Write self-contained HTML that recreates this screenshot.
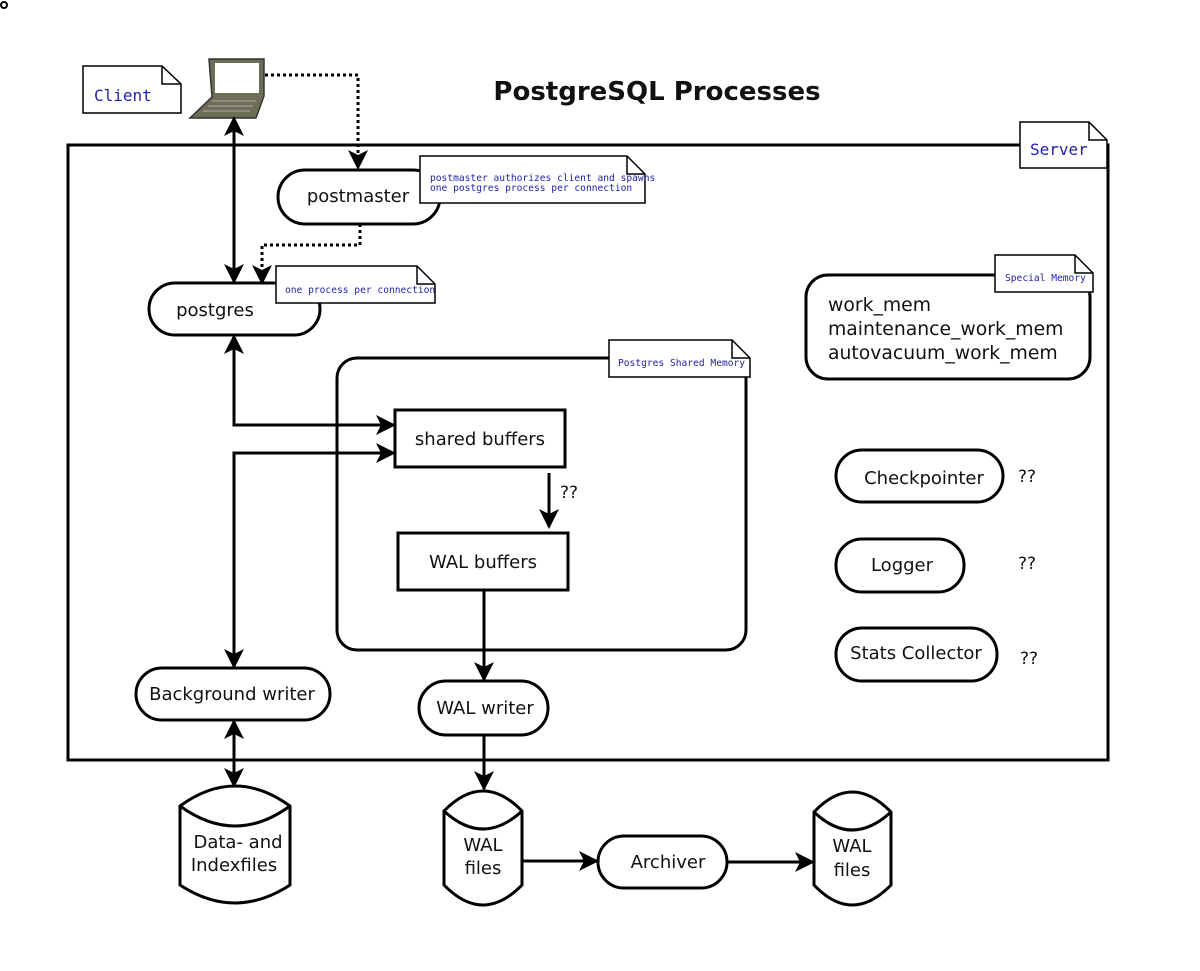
<!DOCTYPE html>
<html><head><meta charset="utf-8"><style>
html,body{margin:0;padding:0;background:#fff;}
svg{display:block;}
text{font-family:"DejaVu Sans","Liberation Sans",sans-serif;fill:#111;}
.m{font-family:"DejaVu Sans Mono","Liberation Mono",monospace;fill:#2222aa;}
</style></head><body>
<svg width="1200" height="971" viewBox="0 0 1200 971" xmlns="http://www.w3.org/2000/svg">
<defs>
<marker id="a" viewBox="0 0 20 20" refX="18" refY="10" markerWidth="20" markerHeight="20" markerUnits="userSpaceOnUse" orient="auto-start-reverse">
<path d="M0,0 L20,10 L0,20 L5,10 Z" fill="#000"/>
</marker>
</defs>
<circle cx="4" cy="5" r="3" fill="none" stroke="#000" stroke-width="2"/>
<g fill="none" stroke="#000" stroke-width="3">
<rect x="68" y="145" width="1040" height="615"/>
</g>
<text x="657" y="100" font-size="26" font-weight="bold" text-anchor="middle">PostgreSQL Processes</text>
<g fill="#fff" stroke="#000" stroke-width="1.5">
<path d="M83,66 H162 L181,84 V113 H83 Z"/><path d="M162,66 V84 H181" fill="none"/>
<path d="M1020,122 H1089 L1107,140 V168 H1020 Z"/><path d="M1089,122 V140 H1107" fill="none"/>
</g>
<text x="94" y="101" font-size="16" class="m">Client</text>
<text x="1030" y="155" font-size="16" class="m">Server</text>
<path d="M209,59 H264 V96 L256,118 H190 L212,97 Z" fill="#6e6e58" stroke="#333" stroke-width="1.5"/>
<rect x="215" y="63" width="44" height="30" fill="#fff"/>
<path d="M212,101 H256 M208,106 H253 M203,111 H250" stroke="#aaa" stroke-width="1"/>
<g fill="none" stroke="#000" stroke-width="3" stroke-dasharray="3,3">
<path d="M265,75 H358 V168" marker-end="url(#a)"/>
<path d="M360,224 V245 H262 V283" marker-end="url(#a)"/>
</g>
<g fill="none" stroke="#000" stroke-width="3">
<path d="M234,118 V282" marker-start="url(#a)" marker-end="url(#a)"/>
<rect x="278" y="170" width="162" height="54" rx="27" fill="#fff"/>
<rect x="149" y="283" width="171" height="52" rx="26" fill="#fff"/>
<rect x="337" y="358" width="409" height="292" rx="20"/>
<rect x="395" y="410" width="170" height="57"/>
<rect x="398" y="533" width="170" height="57"/>
<path d="M234,336 V425 H394" marker-start="url(#a)" marker-end="url(#a)"/>
<path d="M394,453 H234 V667" marker-start="url(#a)" marker-end="url(#a)"/>
<path d="M549,473 V527" marker-end="url(#a)"/>
<path d="M484,590 V680" marker-end="url(#a)"/>
<rect x="136" y="668" width="194" height="52" rx="26" fill="#fff"/>
<rect x="419" y="681" width="129" height="54" rx="27" fill="#fff"/>
<path d="M234,721 V786" marker-start="url(#a)" marker-end="url(#a)"/>
<path d="M484,735 V789" marker-end="url(#a)"/>
<rect x="806" y="275" width="284" height="104" rx="22"/>
<rect x="836" y="450" width="167" height="52" rx="26"/>
<rect x="836" y="539" width="128" height="53" rx="26"/>
<rect x="836" y="628" width="161" height="53" rx="26"/>
<path d="M180,806 Q235,766 290,806 V885 Q235,921 180,885 Z M180,806 Q235,846 290,806"/>
<path d="M444,811 Q483,771 522,811 V885 Q483,925 444,885 Z M444,811 Q483,847 522,811"/>
<path d="M814,812 Q852,772 891,812 V885 Q852,925 814,885 Z M814,812 Q852,848 891,812"/>
<path d="M522,861 H597" marker-end="url(#a)"/>
<rect x="598" y="836" width="129" height="52" rx="26"/>
<path d="M727,862 H813" marker-end="url(#a)"/>
</g>
<g fill="#fff" stroke="#000" stroke-width="1.5">
<path d="M420,156 H627 L645,174 V203 H420 Z"/><path d="M627,156 V174 H645" fill="none"/>
<path d="M276,266 H417 L435,284 V303 H276 Z"/><path d="M417,266 V284 H435" fill="none"/>
<path d="M609,340 H732 L750,358 V377 H609 Z"/><path d="M732,340 V358 H750" fill="none"/>
<path d="M995,255 H1075 L1093,273 V292 H995 Z"/><path d="M1075,255 V273 H1093" fill="none"/>
</g>
<text x="430" y="181" font-size="9.6" class="m">postmaster authorizes client and spawns</text>
<text x="430" y="191" font-size="9.6" class="m">one postgres process per connection</text>
<text x="285" y="293" font-size="9.6" class="m">one process per connection</text>
<text x="618" y="366" font-size="9.6" class="m">Postgres Shared Memory</text>
<text x="1005" y="281" font-size="9.6" class="m">Special Memory</text>
<g font-size="18" text-anchor="middle">
<text x="358" y="202">postmaster</text>
<text x="215" y="316">postgres</text>
<text x="480" y="445">shared buffers</text>
<text x="483" y="568">WAL buffers</text>
<text x="232" y="700">Background writer</text>
<text x="485" y="714">WAL writer</text>
<text x="924" y="484">Checkpointer</text>
<text x="902" y="571">Logger</text>
<text x="916" y="659">Stats Collector</text>
<text x="238" y="848">Data- and</text>
<text x="234" y="871">Indexfiles</text>
<text x="483" y="851">WAL</text>
<text x="483" y="874">files</text>
<text x="852" y="852">WAL</text>
<text x="852" y="876">files</text>
<text x="668" y="868">Archiver</text>
</g>
<g font-size="18.8">
<text x="828" y="311">work_mem</text>
<text x="828" y="335">maintenance_work_mem</text>
<text x="828" y="359">autovacuum_work_mem</text>
<text x="560" y="498" font-size="17">??</text>
<text x="1018" y="482" font-size="17">??</text>
<text x="1018" y="569" font-size="17">??</text>
<text x="1020" y="664" font-size="17">??</text>
</g>
</svg>
</body></html>
